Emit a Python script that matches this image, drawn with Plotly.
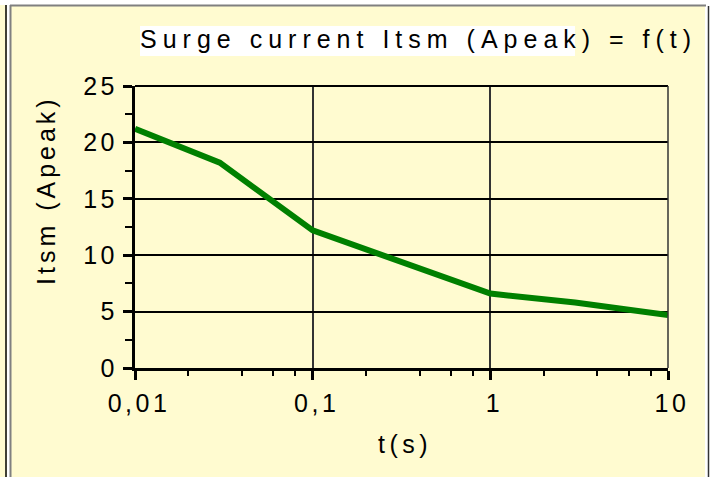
import plotly.graph_objects as go

# ---- data ----
t_s = [0.01, 0.03, 0.1, 1, 3, 10]
itsm_apeak = [21.2, 18.2, 12.2, 6.6, 5.8, 4.7]

x_tickvals = [0.01, 0.1, 1, 10]
x_ticktext = ["0,01", "0,1", "1", "10"]
x_minor_vals = [0.02, 0.04, 0.06, 0.08, 0.2, 0.4, 0.6, 0.8, 2, 4, 6, 8]
y_tickvals = [0, 5, 10, 15, 20, 25]
y_minor_vals = [2.5, 7.5, 12.5, 17.5, 22.5]

title_text = "Surge current Itsm (Apeak) = f(t)"
x_title = "t(s)"
y_title = "Itsm (Apeak)"

# ---- layout geometry (pixels) ----
W, H = 715, 477
L, R, T, B = 135, 668, 86, 368
BG = "#FFFBD0"
FONT = "Liberation Sans, Arial, sans-serif"
FS = 25


def px(x):
    return (x - L) / (R - L)


def py(y):
    return (B - y) / (B - T)


fig = go.Figure()
fig.add_trace(go.Scatter(
    x=t_s, y=itsm_apeak, mode="lines",
    line=dict(color="#008000", width=6),
    showlegend=False, hoverinfo="skip",
))

shapes = []


def line(x0, y0, x1, y1, color, width):
    shapes.append(dict(type="line", xref="paper", yref="paper",
                       x0=px(x0), y0=py(y0), x1=px(x1), y1=py(y1),
                       line=dict(color=color, width=width), layer="above"))


def rect(x0, y0, x1, y1, fill):
    shapes.append(dict(type="rect", xref="paper", yref="paper",
                       x0=px(x0), y0=py(y0), x1=px(x1), y1=py(y1),
                       fillcolor=fill, line=dict(width=0), layer="below"))


# outer frame decorations
rect(0, 0, W, 5, "white")
rect(7, 5, 10, H, "white")
rect(705, 5, W, H, "white")
rect(140, 26, 575, 56, "white")   # highlight behind title
line(10, 5.5, 706, 5.5, "#808080", 2)
line(6, 5, 6, H, "#000000", 1.5)
line(10.5, 5, 10.5, H, "#808080", 2)
line(708.5, 6, 708.5, H, "#333333", 1.5)
# plot borders top/right
line(L, T, R, T, "#000000", 2)
line(R, T, R, B, "#333333", 1.5)

fig.update_layout(
    width=W, height=H,
    margin=dict(l=L, r=W - R, t=T, b=H - B, pad=0),
    paper_bgcolor=BG, plot_bgcolor=BG,
    font=dict(family=FONT, size=FS, color="black"),
    shapes=shapes,
    showlegend=False,
    annotations=[
        dict(text=title_text, xref="paper", yref="paper",
             x=px(418), y=py(39), xanchor="center", yanchor="middle",
             showarrow=False, font=dict(size=FS)),
        dict(text=y_title, xref="paper", yref="paper",
             x=px(46), y=py(190), xanchor="center", yanchor="middle",
             textangle=-90, showarrow=False, font=dict(size=FS)),
        dict(text=x_title, xref="paper", yref="paper",
             x=px(405), y=py(444), xanchor="center", yanchor="middle",
             showarrow=False, font=dict(size=FS)),
    ],
)

fig.update_xaxes(
    type="log", range=[-2, 1],
    tickvals=x_tickvals, ticktext=x_ticktext,
    showline=True, linecolor="black", linewidth=3,
    ticks="outside", ticklen=9, tickwidth=3, tickcolor="black",
    showgrid=True, gridcolor="#333333", gridwidth=1.5,
    zeroline=False, ticklabelstandoff=2, ticklabelshift=4,
    minor=dict(tickvals=x_minor_vals, ticks="outside", ticklen=5,
               tickwidth=2, tickcolor="black", showgrid=False),
    tickfont=dict(size=FS),
)
fig.update_yaxes(
    range=[0, 25], tickvals=y_tickvals,
    showline=True, linecolor="black", linewidth=3,
    ticks="outside", ticklen=9, tickwidth=3, tickcolor="black",
    showgrid=True, gridcolor="black", gridwidth=2,
    zeroline=False,
    minor=dict(tickvals=y_minor_vals, ticks="outside", ticklen=7,
               tickwidth=2, tickcolor="black", showgrid=False),
    tickfont=dict(size=FS),
)

post = """
document.body.style.margin = '0';
var gd = document.getElementById('{plot_id}');
function ls(sel, v) { gd.querySelectorAll(sel).forEach(function(t){ t.style.letterSpacing = v; }); }
ls('.xtick text', '3.5px');
ls('.ytick text', '3.5px');
var sp = ['6px', '4px', '4.5px'];
gd.querySelectorAll('.annotation-text').forEach(function(t, i){ t.style.letterSpacing = sp[i] || '0px'; });
"""

fig.write_html("out.html", post_script=post, config={"displayModeBar": False})
